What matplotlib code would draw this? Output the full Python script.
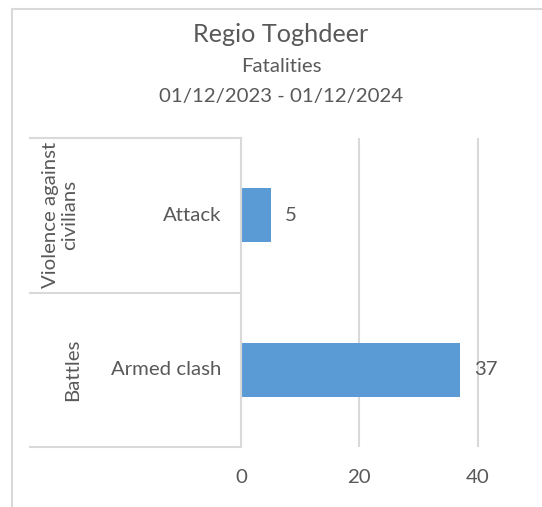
import matplotlib.pyplot as plt
from matplotlib.lines import Line2D

plt.rcParams['font.family'] = ['Lato', 'DejaVu Sans']

# data
groups = ['Battles', 'Violence against\ncivilians']
types = ['Armed clash', 'Attack']
fatalities = [37, 5]
xticks = [0, 20, 40]

grey = '#595959'
line_c = '#d9d9d9'
bar_c = '#5b9bd5'

W, H = 542, 507
fig = plt.figure(figsize=(W / 100, H / 100), dpi=100)

# chart border (only left and top visible)
fig.add_artist(Line2D([12 / W, 12 / W], [0, 1 - 9 / H], color=line_c, lw=1.5))
fig.add_artist(Line2D([12 / W, 1], [1 - 9 / H, 1 - 9 / H], color=line_c, lw=1.5))

# titles
cx = 281 / W
fig.text(cx, 1 - 42 / H, 'Regio Toghdeer', ha='center', va='baseline', fontsize=18.2, color=grey)
fig.text(cx, 1 - 72 / H, 'Fatalities', ha='center', va='baseline', fontsize=14.7, color=grey)
fig.text(cx, 1 - 102 / H, '01/12/2023 - 01/12/2024', ha='center', va='baseline', fontsize=14.7, color=grey)

ax_l, ax_r, ax_t, ax_b = 241, 537, 138, 447
ax = fig.add_axes([ax_l / W, 1 - ax_b / H, (ax_r - ax_l) / W, (ax_b - ax_t) / H])

y = list(range(len(types)))
ax.barh(y, fatalities, height=0.35, color=bar_c, zorder=3)
ax.set_xlim(0, 50)
ax.set_ylim(-0.5, len(types) - 0.5)
ax.set_xticks(xticks)
ax.set_yticks([])
ax.xaxis.grid(True, color=line_c, lw=1.5)
ax.tick_params(axis='x', length=0, labelsize=14.7, labelcolor=grey, pad=16)
for s in ['top', 'right', 'bottom']:
    ax.spines[s].set_visible(False)
ax.spines['left'].set_color(line_c)
ax.spines['left'].set_linewidth(1.5)
ax.spines['left'].set_zorder(4)

# data labels
for yi, v in zip(y, fatalities):
    ax.annotate(str(v), (v, yi), xytext=(10, 0), textcoords='offset points',
                ha='left', va='center', fontsize=14.7, color=grey)

# multi-level category axis
tr = ax.get_yaxis_transform()
left_x = (30 - ax_l) / (ax_r - ax_l)
for yy in [-0.5, 0.5, 1.5]:
    ax.plot([left_x, 0], [yy, yy], transform=tr, color=line_c, lw=1.5, clip_on=False)
for yi, t in zip(y, types):
    ax.annotate(t, (0, yi), xycoords=tr, xytext=(-14, 0), textcoords='offset points',
                ha='right', va='center', fontsize=14.7, color=grey)
group_x = [73, 60]
for yi, g, gx in zip(y, groups, group_x):
    ax.text((gx - ax_l) / (ax_r - ax_l), yi, g, transform=tr, rotation=90,
            ha='center', va='center', fontsize=14.7, color=grey, linespacing=1.15,
            multialignment='center')

fig.savefig('out.png', dpi=100)
